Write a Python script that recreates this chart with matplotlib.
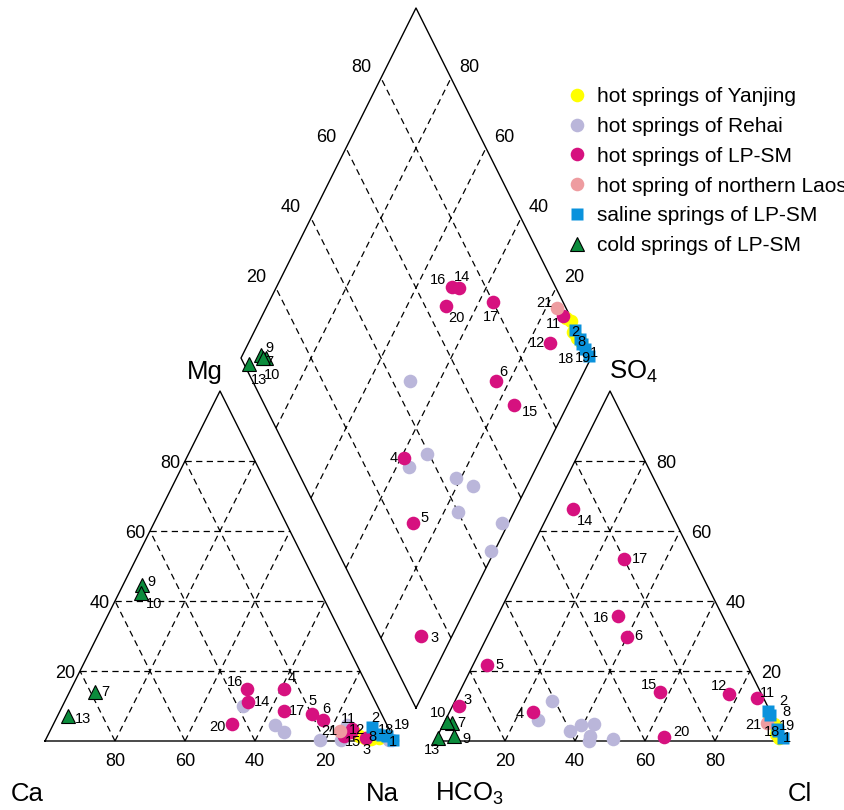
import numpy as np
import matplotlib.pyplot as plt
from matplotlib.lines import Line2D

plt.rcParams['font.family'] = ['Liberation Sans', 'DejaVu Sans']
plt.rcParams['mathtext.default'] = 'regular'

# meq %, Ca and HCO3 are what is left to 100
yj_mg  = [2.5, 1.5, 0.8, 0.5, 1.0]
yj_na  = [87.0, 89.0, 91.0, 93.0, 95.0]
yj_so4 = [6.0, 4.0, 2.0, 0.8, 5.0]
yj_cl  = [92.5, 95.5, 96.5, 98.0, 94.5]

rh_mg  = [10.0, 2.7, 4.6, 0.4, 0.2, 4.6, 0.3, 0.2]
rh_na  = [51.5, 66.8, 63.5, 78.5, 84.5, 84.0, 98.2, 99.0]
rh_so4 = [1.4, 11.5, 6.0, 4.6, 5.0, 2.9, 0.5, 0.0]
rh_cl  = [43.5, 27.8, 26.4, 39.5, 43.0, 37.0, 50.5, 44.0]

lp_id  = ['3', '4', '5', '6', '11', '12', '14', '15', '16', '17', '20']
lp_mg  = [1.0, 15.0, 7.6, 6.0, 3.5, 2.5, 11.2, 1.5, 15.0, 8.7, 4.9]
lp_na  = [91.2, 60.8, 72.6, 76.3, 86.0, 86.2, 52.4, 84.7, 50.1, 64.0, 51.1]
lp_so4 = [10.1, 8.4, 21.7, 29.8, 12.4, 13.3, 66.2, 14.1, 35.8, 52.0, 1.2]
lp_cl  = [1.8, 23.9, 3.9, 39.9, 85.7, 77.3, 6.2, 57.3, 34.5, 28.1, 64.9]

la_id  = ['21']
la_mg  = [2.8]
la_na  = [83.0]
la_so4 = [5.1]
la_cl  = [92.3]

sa_id  = ['1', '2', '8', '18', '19']
sa_mg  = [0.3, 3.9, 2.0, 1.7, 1.5]
sa_na  = [99.3, 91.5, 94.0, 95.5, 97.0]
sa_so4 = [1.0, 8.5, 7.5, 3.5, 3.0]
sa_cl  = [98.8, 91.0, 92.0, 96.0, 96.5]

co_id  = ['7', '9', '10', '13']
co_mg  = [14.1, 44.6, 42.2, 7.2]
co_na  = [7.2, 5.3, 6.2, 3.0]
co_so4 = [5.1, 1.4, 5.4, 1.0]
co_cl  = [2.2, 4.8, 0.7, 0.3]

ticks = [20, 40, 60, 80]

# label offsets (px) for left triangle, right triangle, diamond
off_cat = {'9': (10, -3), '10': (14, 11), '7': (10, 0), '13': (15, 3),
           '16': (-12, -7), '14': (14, 0), '4': (8, -10), '17': (13, 0), '5': (0, -13),
           '6': (4, -11), '20': (-15, 3), '11': (-4, -10), '12': (6, -2), '15': (9, 6),
           '3': (1, 12), '21': (-11, 0), '8': (-5, 3), '2': (3, -9), '18': (4, -5),
           '19': (15, -11), '1': (0, 2)}
off_an = {'14': (12, 12), '17': (16, 0), '16': (-17, 2), '6': (12, -1), '5': (13, 0),
          '3': (9, -6), '4': (-14, 2), '15': (-11, -7), '12': (-10, -8), '11': (11, -5),
          '20': (17, -5), '2': (15, -10), '8': (16, -3), '21': (-14, 2), '18': (-5, 3),
          '19': (9, -5), '1': (4, 1), '10': (-9, -9), '7': (10, 0), '13': (-6, 12),
          '9': (12, 3)}
off_dm = {'16': (-14, -7), '14': (3, -11), '20': (10, 12), '17': (-2, 15), '21': (-12, -5),
          '11': (-10, 8), '12': (-13, 0), '6': (7, -9), '15': (16, 7), '4': (-10, 0),
          '5': (12, -4), '3': (13, 2), '2': (0, 2), '8': (2, 3), '18': (-16, 15),
          '19': (-2, 9), '1': (5, -3), '9': (8, -7), '7': (3, 4), '10': (10, 17),
          '13': (10, 16)}

# geometry (pixel space)
S = 3.5
LX0, RX0, BY = 45, 435, 741
DX, DY = 416, 708


def tri_xy(x0, a, b):
    a = np.asarray(a, float)
    b = np.asarray(b, float)
    return x0 + S * (a + b / 2), BY - S * b


def dia_xy(camg, sc):
    camg = np.asarray(camg, float)
    sc = np.asarray(sc, float)
    return DX + S / 2 * (sc - camg), DY - S * (sc + camg)


def dia_from(na, so4, cl):
    return dia_xy(100 - np.asarray(na, float), np.asarray(so4, float) + np.asarray(cl, float))


fig = plt.figure(figsize=(8.45, 8.10), dpi=100)
ax = fig.add_axes([0, 0, 1, 1])
ax.set_xlim(0, 845)
ax.set_ylim(810, 0)
ax.axis('off')

solid = dict(color='k', lw=1.0, zorder=1)
dash = dict(color='k', lw=0.9, ls=(0, (5, 3.5)), zorder=1)

for x0 in (LX0, RX0):
    x, y = tri_xy(x0, [0, 100, 0, 0], [0, 0, 100, 0])
    ax.plot(x, y, **solid)
    for k in ticks:
        x, y = tri_xy(x0, [0, 100 - k], [k, k])
        ax.plot(x, y, **dash)
        x, y = tri_xy(x0, [k, k], [0, 100 - k])
        ax.plot(x, y, **dash)
        x, y = tri_xy(x0, [100 - k, 0], [0, 100 - k])
        ax.plot(x, y, **dash)

x, y = dia_xy([0, 100, 100, 0, 0], [0, 0, 100, 100, 0])
ax.plot(x, y, **solid)
for k in ticks:
    x, y = dia_xy([k, k], [0, 100])
    ax.plot(x, y, **dash)
    x, y = dia_xy([0, 100], [k, k])
    ax.plot(x, y, **dash)

tfs = 13
for k in ticks:
    x, y = tri_xy(LX0, 100 - k, 0)
    ax.text(x, y + 21, str(k), fontsize=tfs, ha='center', va='center')
    x, y = tri_xy(LX0, 0, k)
    ax.text(x - 5, y + 3, str(k), fontsize=tfs, ha='right', va='center')
    x, y = tri_xy(RX0, k, 0)
    ax.text(x, y + 21, str(k), fontsize=tfs, ha='center', va='center')
    x, y = tri_xy(RX0, 100 - k, k)
    ax.text(x + 11, y + 3, str(k), fontsize=tfs, ha='left', va='center')
    x, y = dia_xy(100, k)
    ax.text(x - 20, y - 10, str(k), fontsize=tfs, ha='center', va='center')
    x, y = dia_xy(k, 100)
    ax.text(x + 18, y - 10, str(k), fontsize=tfs, ha='center', va='center')

cfs = 18.5
ax.text(27, 794, 'Ca', fontsize=cfs, ha='center', va='center')
ax.text(382, 794, 'Na', fontsize=cfs, ha='center', va='center')
ax.text(435, 794, 'HCO$_3$', fontsize=cfs, ha='left', va='center')
ax.text(800, 794, 'Cl', fontsize=cfs, ha='center', va='center')
ax.text(205, 372, 'Mg', fontsize=cfs, ha='center', va='center')
ax.text(609, 372, 'SO$_4$', fontsize=cfs, ha='left', va='center')

groups = [
    ('hot springs of Yanjing', yj_mg, yj_na, yj_so4, yj_cl, None,
     dict(marker='o', ms=9.8, mfc='#FFFF00', mec='none')),
    ('hot springs of Rehai', rh_mg, rh_na, rh_so4, rh_cl, None,
     dict(marker='o', ms=9.8, mfc='#BAB6DA', mec='none')),
    ('hot springs of LP-SM', lp_mg, lp_na, lp_so4, lp_cl, lp_id,
     dict(marker='o', ms=9.8, mfc='#D6117F', mec='none')),
    ('hot spring of northern Laos', la_mg, la_na, la_so4, la_cl, la_id,
     dict(marker='o', ms=9.8, mfc='#EE9CA0', mec='none')),
    ('saline springs of LP-SM', sa_mg, sa_na, sa_so4, sa_cl, sa_id,
     dict(marker='s', ms=8.6, mfc='#0A92DC', mec='none')),
    ('cold springs of LP-SM', co_mg, co_na, co_so4, co_cl, co_id,
     dict(marker='^', ms=9.5, mfc='#0B8C3C', mec='k', mew=0.8)),
]

nfs = 10.5
handles = []
for z, (name, mg, na, so4, cl, ids, st) in enumerate(groups):
    pts = [tri_xy(LX0, na, mg), tri_xy(RX0, cl, so4), dia_from(na, so4, cl)]
    for (x, y) in pts:
        ax.plot(x, y, ls='none', zorder=3 + z, **st)
    handles.append(Line2D([], [], ls='none', label=name, **st))
    if ids is None:
        continue
    for (x, y), offs in zip(pts, (off_cat, off_an, off_dm)):
        for i, lab in enumerate(ids):
            dx, dy = offs[lab]
            ax.text(x[i] + dx, y[i] + dy, lab, fontsize=nfs, ha='center', va='center',
                    zorder=20)

ax.legend(handles=handles, loc='upper left', bbox_to_anchor=(0.6706, 0.8925),
          frameon=False, fontsize=15, borderpad=0, handlelength=1.0,
          handletextpad=0.45, labelspacing=0.52, borderaxespad=0)

fig.savefig('out.png', dpi=100)
